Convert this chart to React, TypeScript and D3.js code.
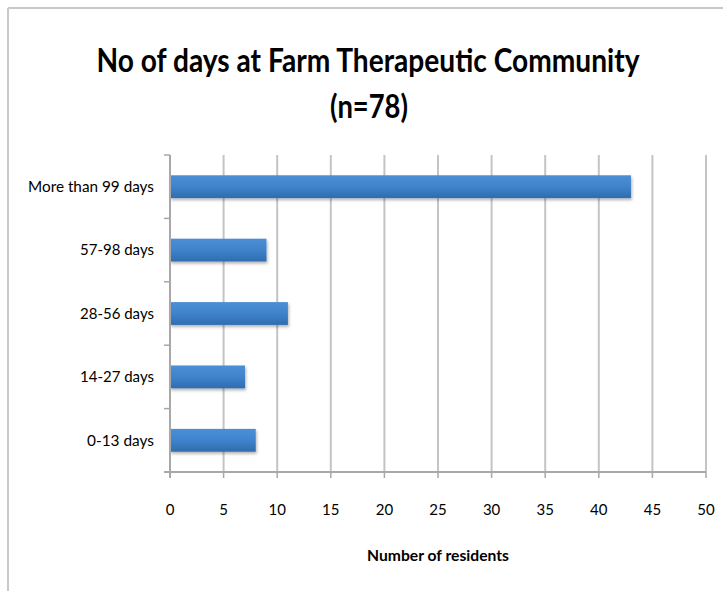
import React from 'react';
import * as d3 from 'd3';

const categories = ['More than 99 days', '57-98 days', '28-56 days', '14-27 days', '0-13 days'];
const residents = [43, 9, 11, 7, 8];
const xTicks = [0, 5, 10, 15, 20, 25, 30, 35, 40, 45, 50];
// widths of the category labels
const labelWidths = [126, 74, 74, 74, 67];

const W = 723;
const H = 591;
const FONT = 'Lato, "Open Sans", sans-serif';

export default function App() {
  const x = d3.scaleLinear().domain([0, 50]).range([170, 706]);
  const y = d3.scaleBand<string>().domain(categories).range([155, 472]).paddingInner(0.64).paddingOuter(0.32);
  const band = d3.scaleBand<string>().domain(categories).range([155, 472]);

  return (
    <svg width={W} height={H} style={{ position: 'absolute', left: 0, top: 0, background: '#fff' }}>
      <defs>
        <linearGradient id="barFill" x1="0" y1="0" x2="0" y2="1">
          <stop offset="0" stopColor="#4b8fd6" />
          <stop offset="0.5" stopColor="#3f83cc" />
          <stop offset="1" stopColor="#2f6cae" />
        </linearGradient>
        <filter id="shadow" x="-5%" y="-30%" width="115%" height="180%">
          <feDropShadow dx="1" dy="2" stdDeviation="1.5" floodColor="#000" floodOpacity="0.3" />
        </filter>
      </defs>

      {/* frame */}
      <line x1={8} y1={8} x2={W} y2={8} stroke="#c8c8c8" strokeWidth={2} />
      <line x1={8} y1={8} x2={8} y2={H} stroke="#c8c8c8" strokeWidth={2} />

      <text x={368} y={72} textAnchor="middle" fontFamily={FONT} fontWeight="bold" fontSize={32} fill="#000"
        textLength={543} lengthAdjust="spacingAndGlyphs">
        No of days at Farm Therapeutic Community
      </text>
      <text x={369} y={118} textAnchor="middle" fontFamily={FONT} fontWeight="bold" fontSize={32} fill="#000"
        textLength={78} lengthAdjust="spacingAndGlyphs">
        (n=78)
      </text>

      {/* gridlines */}
      {xTicks.slice(1).map(t => (
        <line key={t} x1={x(t)} x2={x(t)} y1={155} y2={472} stroke="#c4c4c4" strokeWidth={2} />
      ))}

      {/* bars */}
      {categories.map((c, i) => (
        <rect key={c} x={x(0)} y={y(c)} width={x(residents[i]) - x(0)} height={y.bandwidth()}
          fill="url(#barFill)" filter="url(#shadow)" />
      ))}

      {/* y axis */}
      <line x1={x(0)} x2={x(0)} y1={155} y2={478} stroke="#a8a8a8" strokeWidth={2} />
      {[...categories.map(c => band(c)!), 472].map((v, i) => (
        <line key={i} x1={164} x2={x(0)} y1={v} y2={v} stroke="#a8a8a8" strokeWidth={1.5} />
      ))}
      {categories.map((c, i) => (
        <text key={c} x={154} y={band(c)! + band.bandwidth() / 2} dy="0.35em" textAnchor="end"
          fontFamily={FONT} fontSize={15} fill="#000" textLength={labelWidths[i]} lengthAdjust="spacingAndGlyphs">{c}</text>
      ))}

      {/* x axis */}
      <line x1={164} x2={x(50)} y1={472} y2={472} stroke="#a8a8a8" strokeWidth={2} />
      {xTicks.map(t => (
        <line key={t} x1={x(t)} x2={x(t)} y1={472} y2={478} stroke="#a8a8a8" strokeWidth={1.5} />
      ))}
      {xTicks.map(t => (
        <text key={t} x={x(t)} y={515} textAnchor="middle" fontFamily={FONT} fontSize={15} fill="#000">{t}</text>
      ))}
      <text x={438} y={561} textAnchor="middle" fontFamily={FONT} fontWeight="bold" fontSize={15} fill="#000"
        textLength={142} lengthAdjust="spacingAndGlyphs">
        Number of residents
      </text>
    </svg>
  );
}
